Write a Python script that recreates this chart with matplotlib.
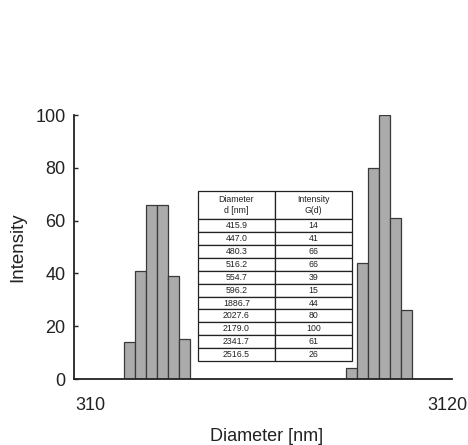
import matplotlib
matplotlib.use("Agg")
import matplotlib.pyplot as plt
import matplotlib.transforms as mtransforms
import numpy as np

plt.rcParams['font.family'] = ['Liberation Sans', 'DejaVu Sans']

# Table data (as printed in the chart)
table_diameter = [415.9, 447.0, 480.3, 516.2, 554.7, 596.2, 1886.7, 2027.6, 2179.0, 2341.7, 2516.5]
table_intensity = [14, 41, 66, 66, 39, 15, 44, 80, 100, 61, 26]
table_header = ["Diameter\nd [nm]", "Intensity\nG(d)"]
table_diameter_text = ["415.9", "447.0", "480.3", "516.2", "554.7", "596.2",
                       "1886.7", "2027.6", "2179.0", "2341.7", "2516.5"]

# Bars drawn in the histogram (includes a small bar not listed in the table)
bar_diameter = [415.9, 447.0, 480.3, 516.2, 554.7, 596.2, 1755.4, 1886.7, 2027.6, 2179.0, 2341.7, 2516.5]
bar_intensity = [14, 41, 66, 66, 39, 15, 4, 44, 80, 100, 61, 26]

x_ticks = [310, 3120]
x_tick_labels = ["310", "3120"]
y_ticks = [0, 20, 40, 60, 80, 100]

fig = plt.figure(figsize=(4.68, 4.45), dpi=100)
ax = fig.add_axes([74/468, 1-379/445, (452-74)/468, (379-115)/445])

ratio = 447.0 / 415.9
d = np.array(bar_diameter)
left = d / np.sqrt(ratio)
right = d * np.sqrt(ratio)
ax.bar(left, bar_intensity, width=right - left, align='edge',
       color='#ababab', edgecolor='#3a3a3a', linewidth=0.9, zorder=2)

ax.set_xscale('log')
ax.set_xlim(291, 3373)
ax.set_ylim(0, 100)
ax.set_xticks(x_ticks)
ax.set_xticklabels(x_tick_labels)
ax.xaxis.set_minor_locator(matplotlib.ticker.NullLocator())
ax.set_yticks(y_ticks)
ax.tick_params(axis='x', length=0, pad=13, labelsize=13, colors='#222222')
ax.tick_params(axis='y', direction='in', length=3, width=1, pad=6, labelsize=13, colors='#222222')
offset = mtransforms.ScaledTranslation(7/100, 0, fig.dpi_scale_trans)
for lbl in ax.get_xticklabels():
    lbl.set_transform(lbl.get_transform() + offset)

for s in ['top', 'right']:
    ax.spines[s].set_visible(False)
for s in ['left', 'bottom']:
    ax.spines[s].set_color('#222222')
    ax.spines[s].set_linewidth(1.3)

ax.set_xlabel("Diameter [nm]", fontsize=13, color='#222222')
ax.set_ylabel("Intensity", fontsize=13.5, color='#222222')
ax.xaxis.set_label_coords(0.51, -0.185)
ax.yaxis.set_label_coords(-0.125, 0.5)

cell_text = [[t, str(v)] for t, v in zip(table_diameter_text, table_intensity)]
tbl = ax.table(cellText=cell_text, colLabels=table_header, cellLoc='center',
               bbox=[(198-74)/378, (379-361)/264, (352-198)/378, (361-191)/264], zorder=5)
tbl.auto_set_font_size(False)
tbl.set_fontsize(6.3)
for (r, c), cell in tbl.get_celld().items():
    cell.set_edgecolor('#222222')
    cell.set_linewidth(0.9)
    cell.set_facecolor('white')
    cell.get_text().set_color('#222222')
    if r == 0:
        cell.set_height(cell.get_height() * 2.2)

fig.savefig("out.png", dpi=100)
